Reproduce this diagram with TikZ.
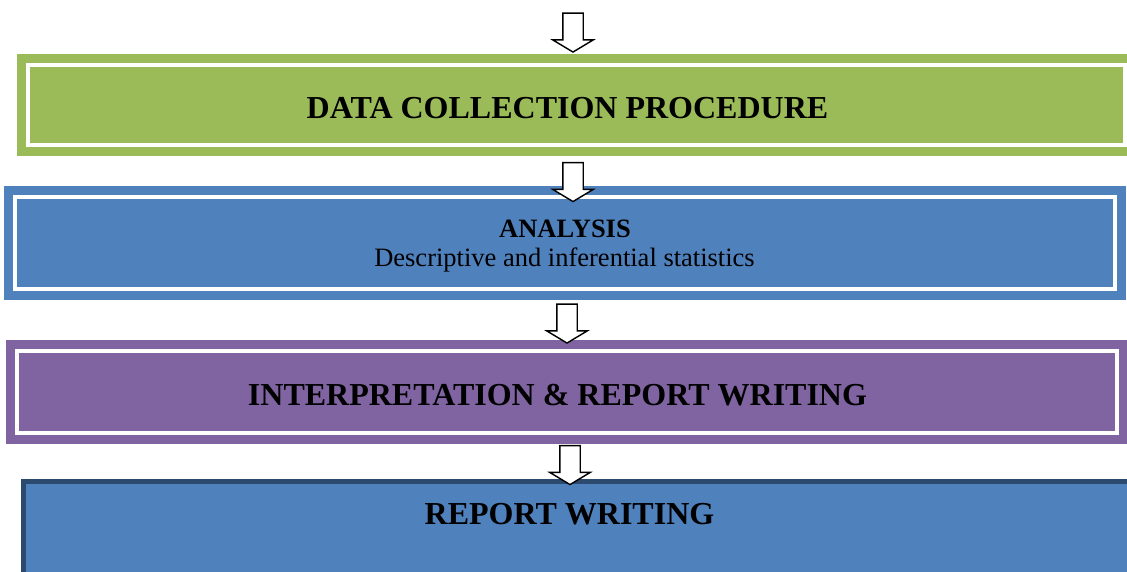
\documentclass[tikz,border=0pt]{standalone}
\usepackage{fontspec}
\setmainfont{Liberation Serif}
\usetikzlibrary{positioning,shapes.arrows}

\definecolor{stagegreen}{HTML}{9BBB59}
\definecolor{stageblue}{HTML}{4F81BD}
\definecolor{stagepurple}{HTML}{8064A2}
\definecolor{stageedge}{HTML}{2C4A6E}

\begin{document}
\begin{tikzpicture}[
  x=1pt, y=-1pt,
  stagebox/.style={fill=#1, draw=none, inner sep=0pt, anchor=north west,
    path picture={\draw[white, line width=4.5pt]
      ([xshift=11pt,yshift=-11pt]path picture bounding box.north west) rectangle
      ([xshift=-11pt,yshift=11pt]path picture bounding box.south east);}},
  lastbox/.style={fill=stageblue, draw=stageedge, line width=5pt, inner sep=0pt, anchor=north west},
  flow/.style={shape=single arrow, draw=black, fill=white, line width=1.4pt, rotate=-90,
    inner xsep=0pt, inner ysep=9.5pt, minimum height=39pt,
    single arrow head extend=10pt, single arrow tip angle=118},
  head/.style={font=\bfseries\fontsize{32}{38}\selectfont, inner sep=0pt, anchor=base},
  subhead/.style={font=\bfseries\fontsize{26.5}{30}\selectfont, inner sep=0pt, anchor=base},
  body/.style={font=\fontsize{26.5}{30}\selectfont, inner sep=0pt, anchor=base}
]
  \useasboundingbox (0,0) rectangle (1127,572);
  \clip (0,0) rectangle (1127,572);

  % stages
  \node[stagebox=stagegreen, minimum width=1119pt, minimum height=102pt] (collect) at (17,54) {};
  \node[stagebox=stageblue, minimum width=1122pt, minimum height=114pt] (analysis) at (4,186) {};
  \node[stagebox=stagepurple, minimum width=1122pt, minimum height=104pt] (interp) at (6,340) {};
  \node[lastbox, minimum width=1115pt, minimum height=110pt] (report) at (21,479) {};

  % texts
  \node[head] (collect-t) at (567.5,119) {DATA COLLECTION PROCEDURE};
  \node[subhead] (analysis-t) at (565,237) {ANALYSIS};
  \node[body] (analysis-s) at (564.5,266) {Descriptive and inferential statistics};
  \node[head] (interp-t) at (557.5,405.5) {INTERPRETATION \& REPORT WRITING};
  \node[head] (report-t) at (569.5,524.5) {REPORT WRITING};

  % block arrows
  \node[flow] (in) at (573,29.5) {};
  \node[flow] (a1) at (573,179) {};
  \node[flow] (a2) at (567,320.5) {};
  \node[flow] (a3) at (570,462) {};
\end{tikzpicture}
\end{document}
